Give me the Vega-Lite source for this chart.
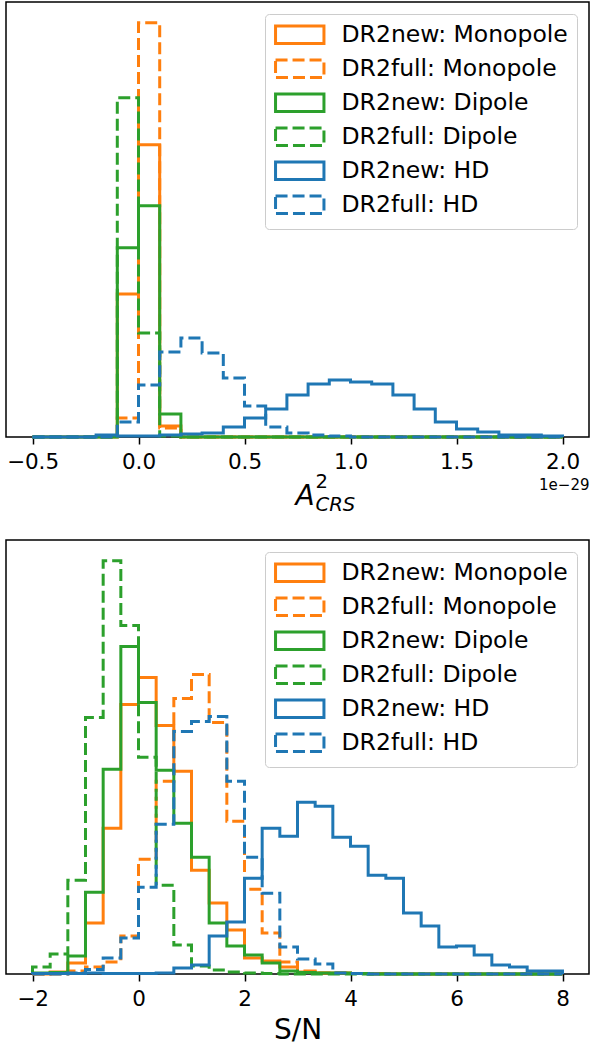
{
  "$schema": "https://vega.github.io/schema/vega-lite/v6.json",
  "background": "white",
  "padding": {"left": 5, "top": 1, "right": 2, "bottom": 0},
  "spacing": 24,
  "config": {
    "font": "DejaVu Sans",
    "view": {"stroke": "black", "strokeWidth": 1.5},
    "axis": {
      "grid": false,
      "labelFont": "DejaVu Sans",
      "titleFont": "DejaVu Sans",
      "labelColor": "black",
      "titleColor": "black",
      "tickColor": "black",
      "titleFontWeight": "normal"
    },
    "legend": {
      "orient": "top-right",
      "offset": 12,
      "padding": 9,
      "fillColor": "rgba(255,255,255,0.8)",
      "strokeColor": "#cccccc",
      "strokeWidth": 1,
      "cornerRadius": 4,
      "labelFont": "DejaVu Sans",
      "labelFontSize": 23.5,
      "labelColor": "black",
      "labelLimit": 400,
      "symbolSize": 310,
      "symbolStrokeWidth": 3,
      "symbolOffset": 14,
      "labelOffset": 30,
      "rowPadding": 3
    }
  },
  "resolve": {"scale": {"color": "independent", "strokeDash": "independent"}},
  "datasets": {
    "amp": [
      {"s":"DR2new: Monopole","x":-0.5,"n":0},{"s":"DR2new: Monopole","x":-0.4,"n":0},{"s":"DR2new: Monopole","x":-0.3,"n":0},{"s":"DR2new: Monopole","x":-0.2,"n":0},{"s":"DR2new: Monopole","x":-0.1,"n":143},{"s":"DR2new: Monopole","x":0,"n":292},{"s":"DR2new: Monopole","x":0.1,"n":11},{"s":"DR2new: Monopole","x":0.2,"n":0},{"s":"DR2new: Monopole","x":0.3,"n":0},{"s":"DR2new: Monopole","x":0.4,"n":0},{"s":"DR2new: Monopole","x":0.5,"n":0},{"s":"DR2new: Monopole","x":0.6,"n":0},{"s":"DR2new: Monopole","x":0.7,"n":0},{"s":"DR2new: Monopole","x":0.8,"n":0},{"s":"DR2new: Monopole","x":0.9,"n":0},{"s":"DR2new: Monopole","x":1.0,"n":0},{"s":"DR2new: Monopole","x":1.1,"n":0},{"s":"DR2new: Monopole","x":1.2,"n":0},{"s":"DR2new: Monopole","x":1.3,"n":0},{"s":"DR2new: Monopole","x":1.4,"n":0},{"s":"DR2new: Monopole","x":1.5,"n":0},{"s":"DR2new: Monopole","x":1.6,"n":0},{"s":"DR2new: Monopole","x":1.7,"n":0},{"s":"DR2new: Monopole","x":1.8,"n":0},{"s":"DR2new: Monopole","x":1.9,"n":0},{"s":"DR2new: Monopole","x":2.0,"n":0},
      {"s":"DR2full: Monopole","x":-0.5,"n":0},{"s":"DR2full: Monopole","x":-0.4,"n":0},{"s":"DR2full: Monopole","x":-0.3,"n":0},{"s":"DR2full: Monopole","x":-0.2,"n":0},{"s":"DR2full: Monopole","x":-0.1,"n":19},{"s":"DR2full: Monopole","x":0,"n":414},{"s":"DR2full: Monopole","x":0.1,"n":9},{"s":"DR2full: Monopole","x":0.2,"n":0},{"s":"DR2full: Monopole","x":0.3,"n":0},{"s":"DR2full: Monopole","x":0.4,"n":0},{"s":"DR2full: Monopole","x":0.5,"n":0},{"s":"DR2full: Monopole","x":0.6,"n":0},{"s":"DR2full: Monopole","x":0.7,"n":0},{"s":"DR2full: Monopole","x":0.8,"n":0},{"s":"DR2full: Monopole","x":0.9,"n":0},{"s":"DR2full: Monopole","x":1.0,"n":0},{"s":"DR2full: Monopole","x":1.1,"n":0},{"s":"DR2full: Monopole","x":1.2,"n":0},{"s":"DR2full: Monopole","x":1.3,"n":0},{"s":"DR2full: Monopole","x":1.4,"n":0},{"s":"DR2full: Monopole","x":1.5,"n":0},{"s":"DR2full: Monopole","x":1.6,"n":0},{"s":"DR2full: Monopole","x":1.7,"n":0},{"s":"DR2full: Monopole","x":1.8,"n":0},{"s":"DR2full: Monopole","x":1.9,"n":0},{"s":"DR2full: Monopole","x":2.0,"n":0},
      {"s":"DR2new: Dipole","x":-0.5,"n":0},{"s":"DR2new: Dipole","x":-0.4,"n":0},{"s":"DR2new: Dipole","x":-0.3,"n":0},{"s":"DR2new: Dipole","x":-0.2,"n":0},{"s":"DR2new: Dipole","x":-0.1,"n":189},{"s":"DR2new: Dipole","x":0,"n":231},{"s":"DR2new: Dipole","x":0.1,"n":23},{"s":"DR2new: Dipole","x":0.2,"n":0},{"s":"DR2new: Dipole","x":0.3,"n":0},{"s":"DR2new: Dipole","x":0.4,"n":0},{"s":"DR2new: Dipole","x":0.5,"n":0},{"s":"DR2new: Dipole","x":0.6,"n":0},{"s":"DR2new: Dipole","x":0.7,"n":0},{"s":"DR2new: Dipole","x":0.8,"n":0},{"s":"DR2new: Dipole","x":0.9,"n":0},{"s":"DR2new: Dipole","x":1.0,"n":0},{"s":"DR2new: Dipole","x":1.1,"n":0},{"s":"DR2new: Dipole","x":1.2,"n":0},{"s":"DR2new: Dipole","x":1.3,"n":0},{"s":"DR2new: Dipole","x":1.4,"n":0},{"s":"DR2new: Dipole","x":1.5,"n":0},{"s":"DR2new: Dipole","x":1.6,"n":0},{"s":"DR2new: Dipole","x":1.7,"n":0},{"s":"DR2new: Dipole","x":1.8,"n":0},{"s":"DR2new: Dipole","x":1.9,"n":0},{"s":"DR2new: Dipole","x":2.0,"n":0},
      {"s":"DR2full: Dipole","x":-0.5,"n":0},{"s":"DR2full: Dipole","x":-0.4,"n":0},{"s":"DR2full: Dipole","x":-0.3,"n":0},{"s":"DR2full: Dipole","x":-0.2,"n":0},{"s":"DR2full: Dipole","x":-0.1,"n":339},{"s":"DR2full: Dipole","x":0,"n":104},{"s":"DR2full: Dipole","x":0.1,"n":1},{"s":"DR2full: Dipole","x":0.2,"n":0},{"s":"DR2full: Dipole","x":0.3,"n":0},{"s":"DR2full: Dipole","x":0.4,"n":0},{"s":"DR2full: Dipole","x":0.5,"n":0},{"s":"DR2full: Dipole","x":0.6,"n":0},{"s":"DR2full: Dipole","x":0.7,"n":0},{"s":"DR2full: Dipole","x":0.8,"n":0},{"s":"DR2full: Dipole","x":0.9,"n":0},{"s":"DR2full: Dipole","x":1.0,"n":0},{"s":"DR2full: Dipole","x":1.1,"n":0},{"s":"DR2full: Dipole","x":1.2,"n":0},{"s":"DR2full: Dipole","x":1.3,"n":0},{"s":"DR2full: Dipole","x":1.4,"n":0},{"s":"DR2full: Dipole","x":1.5,"n":0},{"s":"DR2full: Dipole","x":1.6,"n":0},{"s":"DR2full: Dipole","x":1.7,"n":0},{"s":"DR2full: Dipole","x":1.8,"n":0},{"s":"DR2full: Dipole","x":1.9,"n":0},{"s":"DR2full: Dipole","x":2.0,"n":0},
      {"s":"DR2new: HD","x":-0.5,"n":0},{"s":"DR2new: HD","x":-0.4,"n":0},{"s":"DR2new: HD","x":-0.3,"n":0},{"s":"DR2new: HD","x":-0.2,"n":2},{"s":"DR2new: HD","x":-0.1,"n":1},{"s":"DR2new: HD","x":0,"n":1},{"s":"DR2new: HD","x":0.1,"n":2},{"s":"DR2new: HD","x":0.2,"n":3},{"s":"DR2new: HD","x":0.3,"n":4},{"s":"DR2new: HD","x":0.4,"n":10},{"s":"DR2new: HD","x":0.5,"n":19},{"s":"DR2new: HD","x":0.6,"n":28},{"s":"DR2new: HD","x":0.7,"n":42},{"s":"DR2new: HD","x":0.8,"n":53},{"s":"DR2new: HD","x":0.9,"n":57},{"s":"DR2new: HD","x":1.0,"n":55},{"s":"DR2new: HD","x":1.1,"n":53},{"s":"DR2new: HD","x":1.2,"n":42},{"s":"DR2new: HD","x":1.3,"n":28},{"s":"DR2new: HD","x":1.4,"n":15},{"s":"DR2new: HD","x":1.5,"n":8},{"s":"DR2new: HD","x":1.6,"n":5},{"s":"DR2new: HD","x":1.7,"n":2},{"s":"DR2new: HD","x":1.8,"n":2},{"s":"DR2new: HD","x":1.9,"n":1},{"s":"DR2new: HD","x":2.0,"n":0},
      {"s":"DR2full: HD","x":-0.5,"n":0},{"s":"DR2full: HD","x":-0.4,"n":0},{"s":"DR2full: HD","x":-0.3,"n":0},{"s":"DR2full: HD","x":-0.2,"n":0},{"s":"DR2full: HD","x":-0.1,"n":15},{"s":"DR2full: HD","x":0,"n":52},{"s":"DR2full: HD","x":0.1,"n":85},{"s":"DR2full: HD","x":0.2,"n":99},{"s":"DR2full: HD","x":0.3,"n":84},{"s":"DR2full: HD","x":0.4,"n":59},{"s":"DR2full: HD","x":0.5,"n":31},{"s":"DR2full: HD","x":0.6,"n":10},{"s":"DR2full: HD","x":0.7,"n":4},{"s":"DR2full: HD","x":0.8,"n":2},{"s":"DR2full: HD","x":0.9,"n":1},{"s":"DR2full: HD","x":1.0,"n":0},{"s":"DR2full: HD","x":1.1,"n":0},{"s":"DR2full: HD","x":1.2,"n":0},{"s":"DR2full: HD","x":1.3,"n":0},{"s":"DR2full: HD","x":1.4,"n":0},{"s":"DR2full: HD","x":1.5,"n":0},{"s":"DR2full: HD","x":1.6,"n":0},{"s":"DR2full: HD","x":1.7,"n":0},{"s":"DR2full: HD","x":1.8,"n":0},{"s":"DR2full: HD","x":1.9,"n":0},{"s":"DR2full: HD","x":2.0,"n":0}
    ],
    "snr": [
      {"s":"DR2new: Monopole","x":-2,"n":0},{"s":"DR2new: Monopole","x":-2,"n":0},{"s":"DR2new: Monopole","x":-1.6667,"n":2},{"s":"DR2new: Monopole","x":-1.3333,"n":11},{"s":"DR2new: Monopole","x":-1,"n":51},{"s":"DR2new: Monopole","x":-0.6667,"n":146},{"s":"DR2new: Monopole","x":-0.3333,"n":270},{"s":"DR2new: Monopole","x":0,"n":297},{"s":"DR2new: Monopole","x":0.3333,"n":249},{"s":"DR2new: Monopole","x":0.6667,"n":203},{"s":"DR2new: Monopole","x":1,"n":104},{"s":"DR2new: Monopole","x":1.3333,"n":71},{"s":"DR2new: Monopole","x":1.6667,"n":44},{"s":"DR2new: Monopole","x":2,"n":16},{"s":"DR2new: Monopole","x":2.3333,"n":13},{"s":"DR2new: Monopole","x":2.6667,"n":7},{"s":"DR2new: Monopole","x":3,"n":2},{"s":"DR2new: Monopole","x":3.3333,"n":1},{"s":"DR2new: Monopole","x":3.6667,"n":1},{"s":"DR2new: Monopole","x":4,"n":0.5},{"s":"DR2new: Monopole","x":4.3333,"n":0.5},{"s":"DR2new: Monopole","x":4.6667,"n":0},{"s":"DR2new: Monopole","x":5,"n":0},{"s":"DR2new: Monopole","x":5.3333,"n":0},{"s":"DR2new: Monopole","x":5.6667,"n":0},{"s":"DR2new: Monopole","x":6,"n":0},{"s":"DR2new: Monopole","x":6.3333,"n":0},{"s":"DR2new: Monopole","x":6.6667,"n":0},{"s":"DR2new: Monopole","x":7,"n":0},{"s":"DR2new: Monopole","x":7.3333,"n":0},{"s":"DR2new: Monopole","x":7.6667,"n":0},{"s":"DR2new: Monopole","x":8,"n":0},
      {"s":"DR2full: Monopole","x":-2,"n":0},{"s":"DR2full: Monopole","x":-2,"n":0},{"s":"DR2full: Monopole","x":-1.6667,"n":0},{"s":"DR2full: Monopole","x":-1.3333,"n":3},{"s":"DR2full: Monopole","x":-1,"n":7},{"s":"DR2full: Monopole","x":-0.6667,"n":12},{"s":"DR2full: Monopole","x":-0.3333,"n":38},{"s":"DR2full: Monopole","x":0,"n":115},{"s":"DR2full: Monopole","x":0.3333,"n":193},{"s":"DR2full: Monopole","x":0.6667,"n":276},{"s":"DR2full: Monopole","x":1,"n":300},{"s":"DR2full: Monopole","x":1.3333,"n":252},{"s":"DR2full: Monopole","x":1.6667,"n":153},{"s":"DR2full: Monopole","x":2,"n":85},{"s":"DR2full: Monopole","x":2.3333,"n":41},{"s":"DR2full: Monopole","x":2.6667,"n":12},{"s":"DR2full: Monopole","x":3,"n":3},{"s":"DR2full: Monopole","x":3.3333,"n":1},{"s":"DR2full: Monopole","x":3.6667,"n":1},{"s":"DR2full: Monopole","x":4,"n":0.5},{"s":"DR2full: Monopole","x":4.3333,"n":0},{"s":"DR2full: Monopole","x":4.6667,"n":0},{"s":"DR2full: Monopole","x":5,"n":0},{"s":"DR2full: Monopole","x":5.3333,"n":0},{"s":"DR2full: Monopole","x":5.6667,"n":0},{"s":"DR2full: Monopole","x":6,"n":0},{"s":"DR2full: Monopole","x":6.3333,"n":0},{"s":"DR2full: Monopole","x":6.6667,"n":0},{"s":"DR2full: Monopole","x":7,"n":0},{"s":"DR2full: Monopole","x":7.3333,"n":0},{"s":"DR2full: Monopole","x":7.6667,"n":0},{"s":"DR2full: Monopole","x":8,"n":0},
      {"s":"DR2new: Dipole","x":-2,"n":0},{"s":"DR2new: Dipole","x":-2,"n":1},{"s":"DR2new: Dipole","x":-1.6667,"n":1.5},{"s":"DR2new: Dipole","x":-1.3333,"n":18},{"s":"DR2new: Dipole","x":-1,"n":82},{"s":"DR2new: Dipole","x":-0.6667,"n":205},{"s":"DR2new: Dipole","x":-0.3333,"n":328},{"s":"DR2new: Dipole","x":0,"n":272},{"s":"DR2new: Dipole","x":0.3333,"n":204},{"s":"DR2new: Dipole","x":0.6667,"n":151},{"s":"DR2new: Dipole","x":1,"n":117},{"s":"DR2new: Dipole","x":1.3333,"n":51},{"s":"DR2new: Dipole","x":1.6667,"n":28},{"s":"DR2new: Dipole","x":2,"n":19},{"s":"DR2new: Dipole","x":2.3333,"n":11},{"s":"DR2new: Dipole","x":2.6667,"n":3},{"s":"DR2new: Dipole","x":3,"n":1.5},{"s":"DR2new: Dipole","x":3.3333,"n":1},{"s":"DR2new: Dipole","x":3.6667,"n":1},{"s":"DR2new: Dipole","x":4,"n":0.5},{"s":"DR2new: Dipole","x":4.3333,"n":0},{"s":"DR2new: Dipole","x":4.6667,"n":0},{"s":"DR2new: Dipole","x":5,"n":0},{"s":"DR2new: Dipole","x":5.3333,"n":0},{"s":"DR2new: Dipole","x":5.6667,"n":0},{"s":"DR2new: Dipole","x":6,"n":0},{"s":"DR2new: Dipole","x":6.3333,"n":0},{"s":"DR2new: Dipole","x":6.6667,"n":0},{"s":"DR2new: Dipole","x":7,"n":0},{"s":"DR2new: Dipole","x":7.3333,"n":0},{"s":"DR2new: Dipole","x":7.6667,"n":0},{"s":"DR2new: Dipole","x":8,"n":0},
      {"s":"DR2full: Dipole","x":-2,"n":0},{"s":"DR2full: Dipole","x":-2,"n":7},{"s":"DR2full: Dipole","x":-1.6667,"n":20},{"s":"DR2full: Dipole","x":-1.3333,"n":94},{"s":"DR2full: Dipole","x":-1,"n":257},{"s":"DR2full: Dipole","x":-0.6667,"n":414},{"s":"DR2full: Dipole","x":-0.3333,"n":349},{"s":"DR2full: Dipole","x":0,"n":217},{"s":"DR2full: Dipole","x":0.3333,"n":89},{"s":"DR2full: Dipole","x":0.6667,"n":29},{"s":"DR2full: Dipole","x":1,"n":8},{"s":"DR2full: Dipole","x":1.3333,"n":4},{"s":"DR2full: Dipole","x":1.6667,"n":2},{"s":"DR2full: Dipole","x":2,"n":1},{"s":"DR2full: Dipole","x":2.3333,"n":0.5},{"s":"DR2full: Dipole","x":2.6667,"n":0},{"s":"DR2full: Dipole","x":3,"n":0},{"s":"DR2full: Dipole","x":3.3333,"n":0},{"s":"DR2full: Dipole","x":3.6667,"n":0},{"s":"DR2full: Dipole","x":4,"n":0},{"s":"DR2full: Dipole","x":4.3333,"n":0},{"s":"DR2full: Dipole","x":4.6667,"n":0},{"s":"DR2full: Dipole","x":5,"n":0},{"s":"DR2full: Dipole","x":5.3333,"n":0},{"s":"DR2full: Dipole","x":5.6667,"n":0},{"s":"DR2full: Dipole","x":6,"n":0},{"s":"DR2full: Dipole","x":6.3333,"n":0},{"s":"DR2full: Dipole","x":6.6667,"n":0},{"s":"DR2full: Dipole","x":7,"n":0},{"s":"DR2full: Dipole","x":7.3333,"n":0},{"s":"DR2full: Dipole","x":7.6667,"n":0},{"s":"DR2full: Dipole","x":8,"n":0},
      {"s":"DR2new: HD","x":-2,"n":0},{"s":"DR2new: HD","x":-2,"n":0.5},{"s":"DR2new: HD","x":-1.6667,"n":0.5},{"s":"DR2new: HD","x":-1.3333,"n":0.5},{"s":"DR2new: HD","x":-1,"n":1},{"s":"DR2new: HD","x":-0.6667,"n":0.5},{"s":"DR2new: HD","x":-0.3333,"n":0.5},{"s":"DR2new: HD","x":0,"n":0.5},{"s":"DR2new: HD","x":0.3333,"n":1},{"s":"DR2new: HD","x":0.6667,"n":6},{"s":"DR2new: HD","x":1,"n":9},{"s":"DR2new: HD","x":1.3333,"n":38},{"s":"DR2new: HD","x":1.6667,"n":52},{"s":"DR2new: HD","x":2,"n":96},{"s":"DR2new: HD","x":2.3333,"n":146},{"s":"DR2new: HD","x":2.6667,"n":138},{"s":"DR2new: HD","x":3,"n":172},{"s":"DR2new: HD","x":3.3333,"n":168},{"s":"DR2new: HD","x":3.6667,"n":137},{"s":"DR2new: HD","x":4,"n":128},{"s":"DR2new: HD","x":4.3333,"n":99},{"s":"DR2new: HD","x":4.6667,"n":96},{"s":"DR2new: HD","x":5,"n":61},{"s":"DR2new: HD","x":5.3333,"n":48},{"s":"DR2new: HD","x":5.6667,"n":27},{"s":"DR2new: HD","x":6,"n":28},{"s":"DR2new: HD","x":6.3333,"n":19},{"s":"DR2new: HD","x":6.6667,"n":9},{"s":"DR2new: HD","x":7,"n":7},{"s":"DR2new: HD","x":7.3333,"n":3},{"s":"DR2new: HD","x":7.6667,"n":3},{"s":"DR2new: HD","x":8,"n":0},
      {"s":"DR2full: HD","x":-2,"n":0},{"s":"DR2full: HD","x":-2,"n":0},{"s":"DR2full: HD","x":-1.6667,"n":0},{"s":"DR2full: HD","x":-1.3333,"n":1},{"s":"DR2full: HD","x":-1,"n":4.5},{"s":"DR2full: HD","x":-0.6667,"n":16},{"s":"DR2full: HD","x":-0.3333,"n":36},{"s":"DR2full: HD","x":0,"n":87},{"s":"DR2full: HD","x":0.3333,"n":150},{"s":"DR2full: HD","x":0.6667,"n":243},{"s":"DR2full: HD","x":1,"n":253},{"s":"DR2full: HD","x":1.3333,"n":258},{"s":"DR2full: HD","x":1.6667,"n":193},{"s":"DR2full: HD","x":2,"n":117},{"s":"DR2full: HD","x":2.3333,"n":81},{"s":"DR2full: HD","x":2.6667,"n":27},{"s":"DR2full: HD","x":3,"n":15},{"s":"DR2full: HD","x":3.3333,"n":10},{"s":"DR2full: HD","x":3.6667,"n":1},{"s":"DR2full: HD","x":4,"n":0.5},{"s":"DR2full: HD","x":4.3333,"n":0},{"s":"DR2full: HD","x":4.6667,"n":0},{"s":"DR2full: HD","x":5,"n":0},{"s":"DR2full: HD","x":5.3333,"n":0},{"s":"DR2full: HD","x":5.6667,"n":0},{"s":"DR2full: HD","x":6,"n":0},{"s":"DR2full: HD","x":6.3333,"n":0},{"s":"DR2full: HD","x":6.6667,"n":0},{"s":"DR2full: HD","x":7,"n":0},{"s":"DR2full: HD","x":7.3333,"n":0},{"s":"DR2full: HD","x":7.6667,"n":0},{"s":"DR2full: HD","x":8,"n":0}
    ]
  },
  "vconcat": [
    {
      "width": 583,
      "height": 435,
      "data": {"name": "amp"},
      "encoding": {
        "y": {"field": "n", "type": "quantitative", "scale": {"domain": [0, 434.7], "nice": false}, "axis": null}
      },
      "layer": [
        {
          "mark": {"type": "line", "interpolate": "step-after", "strokeWidth": 3},
          "encoding": {
            "x": {
              "field": "x", "type": "quantitative",
              "scale": {"domain": [-0.625, 2.125], "nice": false, "zero": false},
              "axis": {
                "orient": "bottom", "values": [-0.5, 0, 0.5, 1, 1.5, 2], "format": ".1f",
                "domain": false, "tickSize": 7, "tickWidth": 1.5, "labelFontSize": 21.5, "labelPadding": 7,
                "title": "A", "titleFontSize": 28, "titleFontStyle": "italic",
                "titleX": 289, "titleY": 67, "titleAlign": "left", "titleBaseline": "alphabetic"
              }
            },
            "color": {
              "field": "s", "type": "nominal",
              "scale": {
                "domain": ["DR2new: Monopole", "DR2full: Monopole", "DR2new: Dipole", "DR2full: Dipole", "DR2new: HD", "DR2full: HD"],
                "range": ["#ff7f0e", "#ff7f0e", "#2ca02c", "#2ca02c", "#1f77b4", "#1f77b4"]
              },
              "legend": {"title": null, "symbolType": "M-2.75,-1H2.75V1H-2.75Z"}
            },
            "strokeDash": {
              "field": "s", "type": "nominal",
              "scale": {
                "domain": ["DR2new: Monopole", "DR2full: Monopole", "DR2new: Dipole", "DR2full: Dipole", "DR2new: HD", "DR2full: HD"],
                "range": [[1, 0], [12, 5], [1, 0], [12, 5], [1, 0], [12, 5]]
              },
              "legend": {"title": null, "symbolType": "M-2.75,-1H2.75V1H-2.75Z"}
            }
          }
        },
        {
          "mark": {"type": "point", "opacity": 0},
          "encoding": {
            "x": {
              "field": "x", "type": "quantitative",
              "axis": {
                "orient": "bottom", "domain": false, "ticks": false, "labels": false,
                "title": "2", "titleFontSize": 19.6, "titleX": 309, "titleY": 50,
                "titleAlign": "left", "titleBaseline": "alphabetic"
              }
            }
          }
        },
        {
          "mark": {"type": "point", "opacity": 0},
          "encoding": {
            "x": {
              "field": "x", "type": "quantitative",
              "axis": {
                "orient": "bottom", "domain": false, "ticks": false, "labels": false,
                "title": "CRS", "titleFontSize": 19.6, "titleFontStyle": "italic", "titleX": 309, "titleY": 73,
                "titleAlign": "left", "titleBaseline": "alphabetic"
              }
            }
          }
        },
        {
          "mark": {"type": "point", "opacity": 0},
          "encoding": {
            "x": {
              "field": "x", "type": "quantitative",
              "axis": {
                "orient": "bottom", "domain": false, "ticks": false, "labels": false,
                "title": "1e−29", "titleFontSize": 15, "titleX": 583, "titleY": 52,
                "titleAlign": "right", "titleBaseline": "alphabetic"
              }
            }
          }
        }
      ],
      "resolve": {"axis": {"x": "independent"}}
    },
    {
      "width": 583,
      "height": 434,
      "data": {"name": "snr"},
      "mark": {"type": "line", "interpolate": "step-after", "strokeWidth": 3},
      "encoding": {
        "x": {
          "field": "x", "type": "quantitative",
          "scale": {"domain": [-2.5, 8.5], "nice": false, "zero": false},
          "axis": {
            "values": [-2, 0, 2, 4, 6, 8], "format": "d",
            "domain": false, "tickSize": 7, "tickWidth": 1.5, "labelFontSize": 21.5, "labelPadding": 7,
            "title": "S/N", "titleFontSize": 28, "titleX": 291.5, "titleY": 64,
            "titleAlign": "center", "titleBaseline": "alphabetic"
          }
        },
        "y": {"field": "n", "type": "quantitative", "scale": {"domain": [0, 434.7], "nice": false}, "axis": null},
        "color": {
          "field": "s", "type": "nominal",
          "scale": {
            "domain": ["DR2new: Monopole", "DR2full: Monopole", "DR2new: Dipole", "DR2full: Dipole", "DR2new: HD", "DR2full: HD"],
            "range": ["#ff7f0e", "#ff7f0e", "#2ca02c", "#2ca02c", "#1f77b4", "#1f77b4"]
          },
          "legend": {"title": null, "symbolType": "M-2.75,-1H2.75V1H-2.75Z"}
        },
        "strokeDash": {
          "field": "s", "type": "nominal",
          "scale": {
            "domain": ["DR2new: Monopole", "DR2full: Monopole", "DR2new: Dipole", "DR2full: Dipole", "DR2new: HD", "DR2full: HD"],
            "range": [[1, 0], [12, 5], [1, 0], [12, 5], [1, 0], [12, 5]]
          },
          "legend": {"title": null, "symbolType": "M-2.75,-1H2.75V1H-2.75Z"}
        }
      }
    }
  ]
}
